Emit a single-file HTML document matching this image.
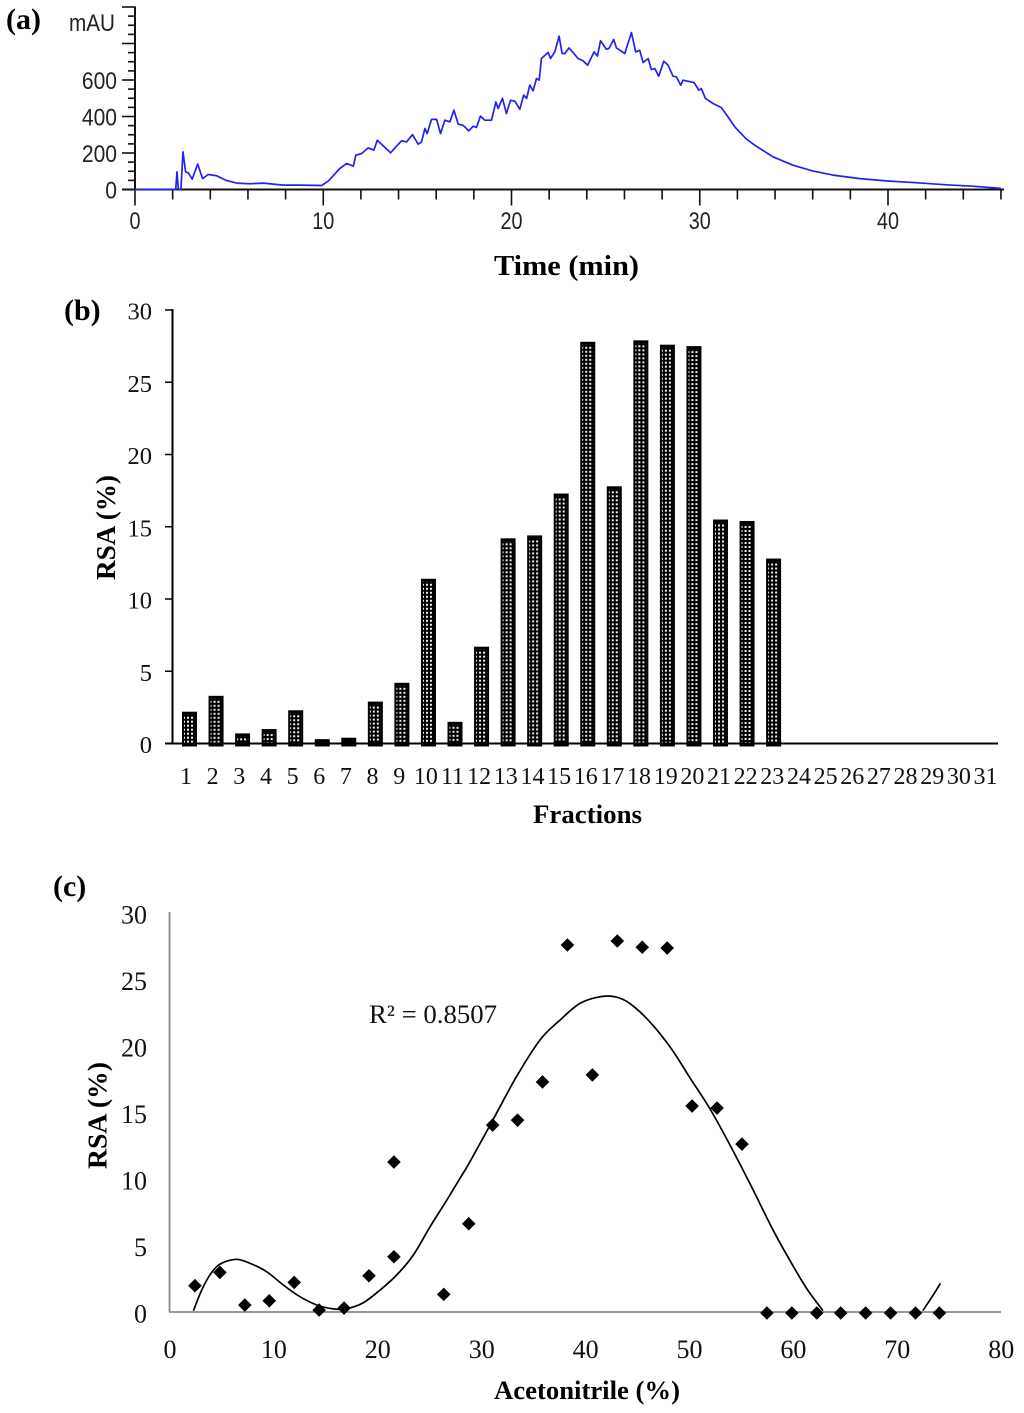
<!DOCTYPE html>
<html lang="en">
<head>
<meta charset="utf-8">
<title>Chromatogram and radical scavenging activity of fractions</title>
<style>
  html, body { margin: 0; padding: 0; background: #fff; }
  body { width: 1024px; height: 1413px; overflow: hidden; }
  svg { display: block; filter: blur(0.35px); }
  .serif { font-family: "Liberation Serif", serif; fill: #111; }
  .bold { font-family: "Liberation Serif", serif; font-weight: bold; fill: #000; }
  .sans { font-family: "Liberation Sans", sans-serif; fill: #222; }
</style>
</head>
<body>
<svg id="figure" xmlns="http://www.w3.org/2000/svg" width="1024" height="1413" viewBox="0 0 1024 1413">
  <defs>
    <pattern id="dots" patternUnits="userSpaceOnUse" width="4" height="4">
      <rect width="4" height="4" fill="#000"></rect>
      <rect x="1" y="1" width="2" height="2" fill="#efefef"></rect>
    </pattern>
  </defs>
  <rect width="1024" height="1413" fill="#fff"></rect>

  <g id="panelA"></g>
  <g id="panelB"></g>
  <g id="panelC"></g>

  <text class="bold" x="6" y="29" font-size="30">(a)</text>
  <text class="sans" x="69" y="31" font-size="24" textLength="46" lengthAdjust="spacingAndGlyphs">mAU</text>
  <text class="bold" x="494" y="275" font-size="29" textLength="145" lengthAdjust="spacingAndGlyphs">Time (min)</text>

  <text class="bold" x="64" y="320" font-size="30">(b)</text>
  <text class="bold" transform="translate(115,580) rotate(-90)" font-size="27" textLength="105" lengthAdjust="spacingAndGlyphs">RSA (%)</text>
  <text class="bold" x="533" y="823" font-size="26.5" textLength="109" lengthAdjust="spacingAndGlyphs">Fractions</text>

  <text class="bold" x="53" y="896" font-size="30">(c)</text>
  <text class="bold" transform="translate(106.5,1169) rotate(-90)" font-size="27" textLength="107" lengthAdjust="spacingAndGlyphs">RSA (%)</text>
  <text class="bold" x="494" y="1399" font-size="26.5" textLength="186" lengthAdjust="spacingAndGlyphs">Acetonitrile (%)</text>
  <text class="serif" x="369" y="1023" font-size="26" textLength="128" lengthAdjust="spacingAndGlyphs">R² = 0.8507</text>
</svg>

<script>
// ---------- Panel (a) data ----------
var traceTime = [0,2.04,2.16,2.23,2.3,2.44,2.55,2.69,2.83,3.04,3.33,3.59,3.89,4.34,4.87,5.4,6.1,6.81,7.88,8.76,9.91,10.27,10.88,11.24,11.6,11.73,12.04,12.39,12.69,12.87,13.19,13.58,13.89,14.16,14.42,14.74,15.04,15.22,15.4,15.52,15.75,16.02,16.23,16.46,16.73,16.94,17.17,17.43,17.73,17.96,18.14,18.35,18.58,18.94,19.17,19.29,19.52,19.73,19.95,20.18,20.44,20.65,20.8,20.97,21.15,21.33,21.47,21.59,21.95,22.07,22.3,22.53,22.69,22.83,23.06,23.54,23.8,24.04,24.39,24.57,24.73,25.04,25.18,25.43,25.57,26.02,26.37,26.6,26.81,26.99,27.26,27.43,27.61,27.82,28.09,28.32,28.58,28.76,28.99,29.11,29.7,29.95,30.09,30.3,30.71,31.15,31.5,31.86,32.48,33.0,33.89,34.95,36.0,37.08,38.5,39.9,41.5,43.1,44.5,46.0];
var traceMau = [0,0,0,97,0,0,206,97,91,57,139,60,82,75,49,35,31,35,24,24,22,46,115,142,128,188,197,228,216,270,239,201,237,267,261,301,248,261,334,307,384,384,307,380,371,435,358,352,321,347,340,402,380,380,480,444,499,416,489,484,440,517,499,572,541,608,599,718,751,718,754,840,745,745,776,718,705,681,754,731,815,769,773,822,776,745,860,754,763,696,718,657,663,621,703,681,621,617,572,599,586,544,553,499,471,449,398,343,276,237,179,133,102,79,60,47,37,26,18,6];
var mauTickValues = [0,50,100,150,200,250,300,350,400,450,500,550,600,650,700,750,800,850,900,950,1000];
var mauTickLabels = [0,200,400,600];
var timeTickValues = [0,2,4,6,8,10,12,14,16,18,20,22,24,26,28,30,32,34,36,38,40,42,44,46];
var timeTickLabels = [0,10,20,30,40];

// ---------- Panel (b) data ----------
var fractionLabels = ['1','2','3','4','5','6','7','8','9','10','11','12','13','14','15','16','17','18','19','20','21','22','23','24','25','26','27','28','29','30','31'];
var fractionRsa = [2.2,3.3,0.7,1.0,2.3,0.3,0.4,2.9,4.2,11.4,1.5,6.7,14.2,14.4,17.3,27.8,17.8,27.9,27.6,27.5,15.5,15.4,12.8];
var rsaTickLabels = [0,5,10,15,20,25,30];

// ---------- Panel (c) data ----------
var acetonitrile = [2.45,4.85,7.25,9.6,12,14.4,16.8,19.2,21.6,21.6,26.4,28.8,31.1,33.5,35.9,38.3,40.7,43.1,45.5,47.9,50.3,52.7,55.1,57.5,59.9,62.3,64.6,67,69.4,71.8,74.1];
var scatterRsa = [2.05,3.05,0.6,0.92,2.3,0.22,0.37,2.8,4.23,11.35,1.4,6.71,14.13,14.5,17.37,27.67,17.9,27.97,27.5,27.44,15.56,15.41,12.7,0,0,0,0,0,0,0,0];
var trendX = [2.3,3.1,3.9,4.86,6.4,7.75,9.35,10.95,12.56,14.17,15.77,17.05,18.65,20.26,21.87,23.47,25.07,26.68,27.96,28.92,31.1,33.4,35.66,37.58,39.5,41.4,42.9,44.3,46.25,48.2,50.1,52.0,53.95,55.9,58,59.4,61.3,62.9];
var trendY = [0.1,1.65,2.8,3.6,3.96,3.66,3.03,2.03,1.15,0.53,0.23,0.25,0.7,1.65,2.78,4.29,6.4,8.4,10.05,11.3,14.4,17.7,20.45,21.95,23.2,23.7,23.7,23.2,21.8,19.9,17.6,15.3,12.55,9.6,6.3,4.3,1.8,0.1];
var trendTailX = [72.5,73.4,74.2];
var trendTailY = [0.1,1.15,2.16];
var acnTickLabels = [0,10,20,30,40,50,60,70,80];
var rsaCTickLabels = [0,5,10,15,20,25,30];

// ---------- Axis functions ----------
function timeX(t) { return 135 + t * 18.825; }
function mauY(v) { return 189.5 - v * 0.1825; }
function fractionBarX(i) { return 189.5 + i * 26.55; }
function fractionLabelX(i) { return 186 + i * 26.65; }
function rsaBY(v) { return 743.5 - v * 14.45; }
function acnX(v) { return 169.5 + v * 10.39; }
function rsaCY(v) { return 1312 - v * 13.3; }

var NS = 'http://www.w3.org/2000/svg';
function make(tag, parent) {
  var e = document.createElementNS(NS, tag);
  parent.appendChild(e);
  return e;
}
function setLine(e, x1, y1, x2, y2, color, w) {
  e.setAttribute('x1', x1);
  e.setAttribute('y1', y1);
  e.setAttribute('x2', x2);
  e.setAttribute('y2', y2);
  e.setAttribute('stroke', color);
  e.setAttribute('stroke-width', w);
}
function setText(e, cls, x, y, size, anchor, str) {
  e.setAttribute('class', cls);
  e.setAttribute('x', x);
  e.setAttribute('y', y);
  e.setAttribute('font-size', size);
  e.setAttribute('text-anchor', anchor);
  e.textContent = str;
}
function pointsOf(xs, ys, fx, fy) {
  return xs.map(function (x, i) { return fx(x).toFixed(1) + ',' + fy(ys[i]).toFixed(1); }).join(' ');
}
function smoothPath(xs, ys, fx, fy) {
  var p = xs.map(function (x, i) { return [fx(x), fy(ys[i])]; });
  var d = 'M' + p[0][0].toFixed(1) + ' ' + p[0][1].toFixed(1);
  for (var i = 0; i < p.length - 1; i++) {
    var a = p[Math.max(i - 1, 0)], b = p[i], c = p[i + 1], e = p[Math.min(i + 2, p.length - 1)];
    d += ' C' + (b[0] + (c[0] - a[0]) / 6).toFixed(1) + ' ' + (b[1] + (c[1] - a[1]) / 6).toFixed(1) +
         ' ' + (c[0] - (e[0] - b[0]) / 6).toFixed(1) + ' ' + (c[1] - (e[1] - b[1]) / 6).toFixed(1) +
         ' ' + c[0].toFixed(1) + ' ' + c[1].toFixed(1);
  }
  return d;
}

// ---------- Draw panel (a) ----------
var pa = document.getElementById('panelA');
var el;

el = make('line', pa);


setLine(el, 135, 6.5, 135, 189.5, '#111', 2);

el = make('line', pa);


setLine(el, 122, 189.5, 1004, 189.5, '#111', 2);

mauTickValues.forEach(function (v) {
  var t = make('line', pa);
  
  
  setLine(t, v % 200 === 0 ? 122 : 128, mauY(v), 135, mauY(v), '#111', 1.6);
});
timeTickValues.forEach(function (v) {
  var t = make('line', pa);
  
  
  setLine(t, timeX(v), 189.5, timeX(v), v % 10 === 0 ? 205.5 : 199.5, '#111', 1.6);
});
mauTickLabels.forEach(function (v) {
  var t = make('text', pa);
  
  
  setText(t, 'sans', 117, mauY(v) + 9, 24.5, 'end', String(v));
  t.setAttribute('textLength', String(v).length * 11.7);
  t.setAttribute('lengthAdjust', 'spacingAndGlyphs');
});
timeTickLabels.forEach(function (v) {
  var t = make('text', pa);
  
  
  setText(t, 'sans', timeX(v), 229, 24.5, 'middle', String(v));
  t.setAttribute('textLength', String(v).length * 11);
  t.setAttribute('lengthAdjust', 'spacingAndGlyphs');
});

el = make('polyline', pa);


el.setAttribute('points', pointsOf(traceTime, traceMau, timeX, mauY));
el.setAttribute('fill', 'none');
el.setAttribute('stroke', '#2222f0');
el.setAttribute('stroke-width', '1.7');
el.setAttribute('stroke-linejoin', 'round');

// ---------- Draw panel (b) ----------
var pb = document.getElementById('panelB');

el = make('line', pb);


setLine(el, 172.5, 309, 172.5, 744.5, '#000', 2);

rsaTickLabels.forEach(function (v) {
  var t = make('line', pb);
  
  
  setLine(t, 165, rsaBY(v), 173, rsaBY(v), '#000', 1.5);
  var l = make('text', pb);
  
  
  setText(l, 'serif', 152, rsaBY(v) + 9.5, 24.5, 'end', String(v));
});

fractionRsa.forEach(function (v, i) {
  var top = rsaBY(v);
  var h = 746.5 - top;
  var g = make('g', pb);
  
  
  g.setAttribute('transform', 'translate(' + (fractionBarX(i) - 7.5) + ',' + top + ')');
  var r = make('rect', g);
  r.setAttribute('width', 15);
  r.setAttribute('height', h);
  r.setAttribute('fill', '#000');
  if (h > 9) {
    var d = make('rect', g);
    d.setAttribute('x', 2);
    d.setAttribute('y', 3);
    d.setAttribute('width', 11);
    d.setAttribute('height', h - 7);
    d.setAttribute('fill', 'url(#dots)');
  }
});

el = make('line', pb);


setLine(el, 165, 743.5, 998, 743.5, '#000', 2);

fractionLabels.forEach(function (s, i) {
  var t = make('text', pb);
  
  
  setText(t, 'serif', fractionLabelX(i), 784, 24, 'middle', s);
});

// ---------- Draw panel (c) ----------
var pc = document.getElementById('panelC');

el = make('line', pc);


setLine(el, 169.5, 912, 169.5, 1312, '#8a8a8a', 1.8);

el = make('line', pc);


setLine(el, 169, 1312, 1001, 1312, '#8a8a8a', 1.8);

rsaCTickLabels.forEach(function (v) {
  var l = make('text', pc);
  
  
  setText(l, 'serif', 147, rsaCY(v) + 10.5, 26, 'end', String(v));
});
acnTickLabels.forEach(function (v) {
  var l = make('text', pc);
  
  
  setText(l, 'serif', acnX(v) + 0.5, 1358, 26, 'middle', String(v));
});

el = make('path', pc);


el.setAttribute('d', smoothPath(trendX, trendY, acnX, rsaCY));
el.setAttribute('fill', 'none');
el.setAttribute('stroke', '#000');
el.setAttribute('stroke-width', '1.7');

el = make('path', pc);


el.setAttribute('d', smoothPath(trendTailX, trendTailY, acnX, rsaCY));
el.setAttribute('fill', 'none');
el.setAttribute('stroke', '#000');
el.setAttribute('stroke-width', '1.7');

acetonitrile.forEach(function (v, i) {
  var cx = acnX(v);
  var cy = rsaCY(scatterRsa[i]) + 1;
  var p = make('polygon', pc);
  
  
  p.setAttribute('points', (cx - 6.8) + ',' + cy + ' ' + cx + ',' + (cy - 6.8) + ' ' + (cx + 6.8) + ',' + cy + ' ' + cx + ',' + (cy + 6.8));
  p.setAttribute('fill', '#000');
});
</script>
</body>
</html>
